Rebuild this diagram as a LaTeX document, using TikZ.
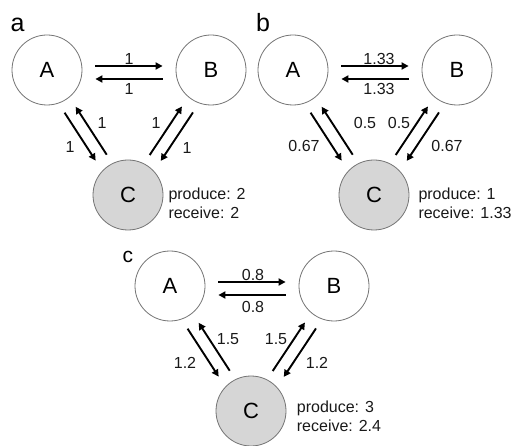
\documentclass[tikz,border=0pt]{standalone}
\usepackage{fontspec}
\setmainfont{Liberation Sans}
\usetikzlibrary{calc,arrows.meta}
\begin{document}
\begin{tikzpicture}[x=1pt,y=-1pt,
  st/.style={circle, draw=black!55, line width=0.8pt, minimum size=70pt, inner sep=0pt, font=\fontsize{22}{22}\selectfont},
  cst/.style={st, fill=black!16},
  arr/.style={-{Triangle[length=7pt,width=7pt]}, line width=1.9pt, shorten <=10pt, shorten >=11pt},
  harr/.style={-{Triangle[length=7pt,width=7pt]}, line width=1.9pt, shorten <=13pt, shorten >=13pt},
  hup/.style={transform canvas={shift={(0,-4)}}},
  hdown/.style={transform canvas={shift={(0,9)}}},
  outL/.style={transform canvas={shift={(-7.1,4.6)}}},
  inL/.style={transform canvas={shift={(3.4,-2.2)}}},
  outR/.style={transform canvas={shift={(7.1,4.6)}}},
  inR/.style={transform canvas={shift={(-3.4,-2.2)}}},
  lbl/.style={font=\fontsize{16}{16}\selectfont, inner sep=0pt, text=black!90},
  info/.style={font=\fontsize{16}{18.5}\selectfont, align=left, anchor=west, inner sep=0pt, text=black!90},
  plbl/.style={font=\fontsize{25}{25}\selectfont, anchor=base west, inner sep=0pt}
]
\useasboundingbox (0,0) rectangle (522,446);

% ---------- panel a ----------
\node[plbl] (pa) at (10.5,31.7) {a};
\node[st] (aA) at (47,70) {A};
\node[st] (aB) at (211,70) {B};
\node[cst] (aC) at (128,195) {C};
\draw[harr, hup] (aA) -- node[lbl, yshift=7pt] (aAB) {1} (aB);
\draw[harr, hdown] (aB) -- node[lbl, yshift=-10pt] (aBA) {1} (aA);
\draw[arr, outL] (aA) -- node[lbl, xshift=-10.4pt, yshift=-9.9pt] (aAC) {1} (aC);
\draw[arr, inL] (aC) -- node[lbl, xshift=11.1pt, yshift=7.3pt] (aCA) {1} (aA);
\draw[arr, inR] (aC) -- node[lbl, xshift=-10.1pt, yshift=7.3pt] (aCB) {1} (aB);
\draw[arr, outR] (aB) -- node[lbl, xshift=10.4pt, yshift=-10.9pt] (aBC) {1} (aC);
\node[info] (ainfo) at (168.3,203.4) {produce: 2\\receive: 2};

% ---------- panel b ----------
\node[plbl] (pb) at (256,31.7) {b};
\node[st] (bA) at (293,70) {A};
\node[st] (bB) at (457,70) {B};
\node[cst] (bC) at (374,195) {C};
\draw[harr, hup] (bA) -- node[lbl, xshift=4pt, yshift=7pt] (bAB) {1.33} (bB);
\draw[harr, hdown] (bB) -- node[lbl, xshift=4pt, yshift=-10pt] (bBA) {1.33} (bA);
\draw[arr, outL] (bA) -- node[lbl, xshift=-22.4pt, yshift=-8.9pt] (bAC) {0.67} (bC);
\draw[arr, inL] (bC) -- node[lbl, xshift=28.1pt, yshift=7.3pt] (bCA) {0.5} (bA);
\draw[arr, inR] (bC) -- node[lbl, xshift=-13.1pt, yshift=7.3pt] (bCB) {0.5} (bB);
\draw[arr, outR] (bB) -- node[lbl, xshift=24.4pt, yshift=-8.9pt] (bBC) {0.67} (bC);
\node[info] (binfo) at (418.3,203.4) {produce: 1\\receive: 1.33};

% ---------- panel c ----------
\node[plbl, font=\fontsize{21}{21}\selectfont] (pc) at (122.5,262.3) {c};
\node[st] (cA) at (170,286) {A};
\node[st] (cB) at (334,286) {B};
\node[cst] (cC) at (251,411) {C};
\draw[harr, hup] (cA) -- node[lbl, xshift=1pt, yshift=6.7pt] (cAB) {0.8} (cB);
\draw[harr, hdown] (cB) -- node[lbl, xshift=1pt, yshift=-12pt] (cBA) {0.8} (cA);
\draw[arr, outL] (cA) -- node[lbl, xshift=-18.4pt, yshift=-9.9pt] (cAC) {1.2} (cC);
\draw[arr, inL] (cC) -- node[lbl, xshift=14.1pt, yshift=7.3pt] (cCA) {1.5} (cA);
\draw[arr, inR] (cC) -- node[lbl, xshift=-13.1pt, yshift=7.3pt] (cCB) {1.5} (cB);
\draw[arr, outR] (cB) -- node[lbl, xshift=17.4pt, yshift=-9.9pt] (cBC) {1.2} (cC);
\node[info] (cinfo) at (296.7,416.4) {produce: 3\\receive: 2.4};
\end{tikzpicture}
\end{document}
